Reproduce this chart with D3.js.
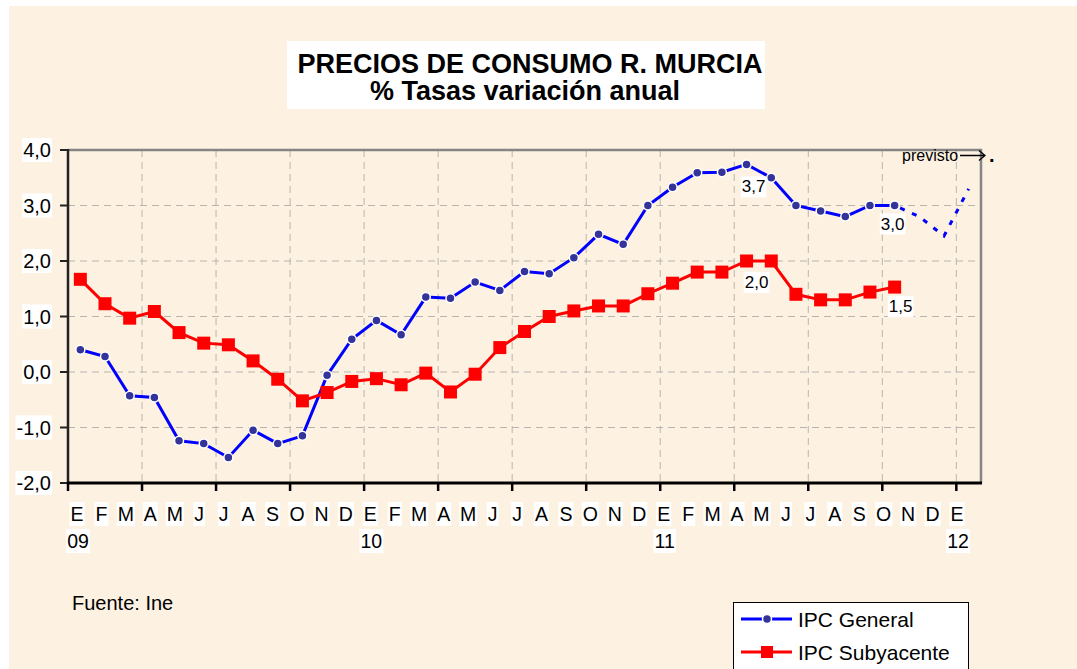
<!DOCTYPE html>
<html>
<head>
<meta charset="utf-8">
<script src="https://cdn.jsdelivr.net/npm/d3@7"></script>
<style>
  body { margin: 0; background: #ffffff; }
  svg { display: block; font-family: Arial, "Liberation Sans", sans-serif; }
</style>
</head>
<body>
<svg id="chart"></svg>
<script>

// months from E09 to E12
const months = ["E","F","M","A","M","J","J","A","S","O","N","D",
                "E","F","M","A","M","J","J","A","S","O","N","D",
                "E","F","M","A","M","J","J","A","S","O","N","D",
                "E"];
const years = [{i: 0, label: "09"}, {i: 12, label: "10"}, {i: 24, label: "11"}, {i: 36, label: "12"}];

const ipcGeneral = [0.40, 0.28, -0.43, -0.46, -1.24, -1.29, -1.54, -1.05, -1.29, -1.15, -0.06, 0.59,
                    0.93, 0.67, 1.35, 1.33, 1.62, 1.47, 1.81, 1.77, 2.06, 2.48, 2.30, 3.00,
                    3.33, 3.59, 3.60, 3.74, 3.50, 3.00, 2.90, 2.80, 3.00, 3.00];
// forecast: O11 -> E12
const ipcPrevisto = [{i: 33, v: 3.00}, {i: 34, v: 2.80}, {i: 35, v: 2.45}, {i: 36, v: 3.30}];
const ipcSubyacente = [1.67, 1.23, 0.97, 1.09, 0.71, 0.52, 0.49, 0.20, -0.13, -0.52, -0.37, -0.17,
                       -0.12, -0.23, -0.02, -0.36, -0.04, 0.44, 0.73, 1.00, 1.10, 1.19, 1.19, 1.41,
                       1.60, 1.80, 1.80, 2.00, 2.00, 1.40, 1.30, 1.30, 1.44, 1.53];
const yTicks = [-2, -1, 0, 1, 2, 3, 4];
const dataLabels = [
    {serie: "general",    i: 27, text: "3,7", dx: 7,  dy: 22},
    {serie: "general",    i: 33, text: "3,0", dx: -2, dy: 18},
    {serie: "subyacente", i: 27, text: "2,0", dx: 10, dy: 21},
    {serie: "subyacente", i: 33, text: "1,5", dx: 6,  dy: 19},
];
const titleLines = ["PRECIOS DE CONSUMO R. MURCIA", "% Tasas variación anual"];

class IpcChart {

    constructor(config) {
        this.config = {
            parent: config.parent,
            width : config.width  || 1077,
            height: config.height || 669,
            margin: config.margin || {top: 150, right: 96, bottom: 186, left: 68},
        }
        this.init();
    }

    init() {
        let self = this;

        self.svg = d3.select(self.config.parent)
            .attr('width', self.config.width)
            .attr('height', self.config.height);

        // cream panel
        self.svg.append('rect')
            .attr('x', 9).attr('y', 6)
            .attr('width', self.config.width - 9)
            .attr('height', self.config.height - 6)
            .attr('fill', '#fdf2e2');

        self.chart = self.svg.append('g');
        self.locale = d3.formatLocale({decimal: ",", thousands: ".", grouping: [3], currency: ["", ""], minus: "-"});
    }

    // white box behind a text, like the excel labels
    boxed(sel, pad) {
        sel.each(function() {
            let b = this.getBBox();
            d3.select(this.parentNode).insert('rect', () => this)
                .attr('x', b.x - pad).attr('y', b.y - 1)
                .attr('width', b.width + pad * 2).attr('height', b.height + 2)
                .attr('fill', 'white');
        });
    }

    update() {
        let self = this;
        let m = self.config.margin;

        self.left   = m.left;
        self.right  = self.config.width - m.right;
        self.top    = m.top;
        self.bottom = self.config.height - m.bottom;

        self.xscale = d3.scaleBand()
            .domain(d3.range(months.length))
            .range([self.left, self.right]);
        self.xc = i => self.xscale(i) + self.xscale.bandwidth() / 2;

        // excel spreads the category letters a bit tighter than the points
        self.xlabel = d3.scalePoint()
            .domain(d3.range(months.length))
            .range([77, 957]);

        self.yscale = d3.scaleLinear()
            .domain([-2, 4])
            .range([self.bottom, self.top]);

        self.render();
    }

    render() {
        let self = this;
        let fmt = self.locale.format(".1f");
        let bw = self.xscale.bandwidth();
        let vTicks = d3.range(0, months.length + 1, 3);   // boundaries every 3 months

        // grid
        self.chart.append('g')
            .selectAll('line')
            .data(yTicks.filter(d => d > -2 && d < 4))
            .join('line')
            .attr('x1', self.left).attr('x2', self.right)
            .attr('y1', d => self.yscale(d)).attr('y2', d => self.yscale(d))
            .attr('stroke', '#b8b4ad').attr('stroke-width', 1)
            .attr('stroke-dasharray', '7,5');

        self.chart.append('g')
            .selectAll('line')
            .data(vTicks.filter(d => d > 0 && d < months.length))
            .join('line')
            .attr('x1', d => self.left + d * bw).attr('x2', d => self.left + d * bw)
            .attr('y1', self.top).attr('y2', self.bottom)
            .attr('stroke', '#b8b4ad').attr('stroke-width', 1)
            .attr('stroke-dasharray', '7,5');

        // top and right frame
        self.chart.append('path')
            .attr('d', `M${self.left},${self.top}H${self.right}V${self.bottom}`)
            .attr('fill', 'none')
            .attr('stroke', '#858585')
            .attr('stroke-width', 2.5);

        // axes
        self.chart.append('line')
            .attr('x1', self.left).attr('x2', self.left)
            .attr('y1', self.top - 1).attr('y2', self.bottom)
            .attr('stroke', '#222').attr('stroke-width', 2.5);

        self.chart.append('g')
            .selectAll('line')
            .data(yTicks)
            .join('line')
            .attr('x1', self.left - 8).attr('x2', self.left)
            .attr('y1', d => self.yscale(d)).attr('y2', d => self.yscale(d))
            .attr('stroke', '#222').attr('stroke-width', 2);

        self.chart.append('line')
            .attr('x1', self.left - 1).attr('x2', self.right + 1)
            .attr('y1', self.bottom).attr('y2', self.bottom)
            .attr('stroke', '#000').attr('stroke-width', 3);

        self.chart.append('g')
            .selectAll('line')
            .data(vTicks)
            .join('line')
            .attr('x1', d => self.left + d * bw).attr('x2', d => self.left + d * bw)
            .attr('y1', self.bottom).attr('y2', self.bottom + 8)
            .attr('stroke', '#000').attr('stroke-width', 2.5);

        // y labels
        let yl = self.chart.append('g')
            .selectAll('text')
            .data(yTicks)
            .join('text')
            .attr('x', 51)
            .attr('y', d => self.yscale(d) + 7)
            .attr('text-anchor', 'end')
            .style('font-size', '20px')
            .text(d => fmt(d));
        self.boxed(yl, 1);

        // month letters
        let ml = self.chart.append('g')
            .selectAll('text')
            .data(months)
            .join('text')
            .attr('x', (d, i) => self.xlabel(i))
            .attr('y', 521)
            .attr('text-anchor', 'middle')
            .style('font-size', '19.5px')
            .text(d => d);
        self.boxed(ml, 1);

        let yr = self.chart.append('g')
            .selectAll('text')
            .data(years)
            .join('text')
            .attr('x', d => self.xlabel(d.i) + 1)
            .attr('y', 548)
            .attr('text-anchor', 'middle')
            .style('font-size', '19.5px')
            .text(d => d.label);
        self.boxed(yr, 1);

        // series
        let line = d3.line()
            .x(d => self.xc(d.i))
            .y(d => self.yscale(d.v));

        let general = ipcGeneral.map((v, i) => ({i: i, v: v}));
        let suby    = ipcSubyacente.map((v, i) => ({i: i, v: v}));

        self.chart.append('path')
            .datum(ipcPrevisto)
            .attr('d', line)
            .attr('fill', 'none')
            .attr('stroke', '#0000ff')
            .attr('stroke-width', 3)
            .attr('stroke-dasharray', '5,8')
            .attr('stroke-dashoffset', -6);

        self.chart.append('path')
            .datum(general)
            .attr('d', line)
            .attr('fill', 'none')
            .attr('stroke', '#0000ff')
            .attr('stroke-width', 3);

        self.chart.append('g')
            .selectAll('circle')
            .data(general)
            .join('circle')
            .attr('cx', d => self.xc(d.i))
            .attr('cy', d => self.yscale(d.v))
            .attr('r', 4.5)
            .attr('fill', '#333399')
            .attr('stroke', 'white')
            .attr('stroke-width', 1.5);

        self.chart.append('path')
            .datum(suby)
            .attr('d', line)
            .attr('fill', 'none')
            .attr('stroke', '#ff0000')
            .attr('stroke-width', 3);

        self.chart.append('g')
            .selectAll('rect')
            .data(suby)
            .join('rect')
            .attr('x', d => self.xc(d.i) - 6.5)
            .attr('y', d => self.yscale(d.v) - 6.5)
            .attr('width', 13).attr('height', 13)
            .attr('fill', '#ff0000');

        // data labels
        let dl = self.chart.append('g')
            .selectAll('text')
            .data(dataLabels)
            .join('text')
            .attr('x', d => self.xc(d.i) + d.dx)
            .attr('y', d => self.yscale(d.serie == "general" ? ipcGeneral[d.i] : ipcSubyacente[d.i]) + d.dy + 6)
            .attr('text-anchor', 'middle')
            .style('font-size', '17px')
            .text(d => d.text);
        self.boxed(dl, 1);

        // previsto arrow
        self.chart.append('text')
            .attr('x', 902).attr('y', 161)
            .style('font-size', '16px')
            .text('previsto');
        self.chart.append('path')
            .attr('d', 'M960,155.5H985M979,150.5L985,155.5L979,160.5')
            .attr('fill', 'none')
            .attr('stroke', '#000')
            .attr('stroke-width', 1.3);
        self.chart.append('text')
            .attr('x', 989).attr('y', 162)
            .style('font-size', '20px')
            .style('font-weight', 'bold')
            .text('.');

        // title, two lines in one text
        self.svg.append('rect')
            .attr('x', 287).attr('y', 41)
            .attr('width', 478).attr('height', 68)
            .attr('fill', 'white');
        self.svg.append('text')
            .attr('text-anchor', 'middle')
            .style('font-size', '27px').style('font-weight', 'bold')
            .selectAll('tspan')
            .data(titleLines)
            .join('tspan')
            .attr('x', (d, i) => i == 0 ? 530 : 525)
            .attr('y', (d, i) => i == 0 ? 73 : 100)
            .text(d => d);

        // source
        self.svg.append('text')
            .attr('x', 72).attr('y', 610)
            .style('font-size', '20px')
            .text('Fuente: Ine');

        // legend
        let lg = self.svg.append('g');
        lg.append('rect')
            .attr('x', 733.5).attr('y', 602.5)
            .attr('width', 235).attr('height', 80)
            .attr('fill', 'white')
            .attr('stroke', '#000').attr('stroke-width', 1);
        lg.append('line')
            .attr('x1', 741).attr('x2', 792).attr('y1', 619).attr('y2', 619)
            .attr('stroke', '#0000ff').attr('stroke-width', 3);
        lg.append('circle')
            .attr('cx', 767).attr('cy', 619).attr('r', 4.5)
            .attr('fill', '#333399').attr('stroke', 'white').attr('stroke-width', 1.5);
        lg.append('line')
            .attr('x1', 741).attr('x2', 792).attr('y1', 652).attr('y2', 652)
            .attr('stroke', '#ff0000').attr('stroke-width', 3);
        lg.append('rect')
            .attr('x', 761).attr('y', 646).attr('width', 12).attr('height', 12)
            .attr('fill', '#ff0000');
        lg.append('text')
            .attr('x', 798).attr('y', 627)
            .style('font-size', '21px')
            .text('IPC General');
        lg.append('text')
            .attr('x', 798).attr('y', 660)
            .style('font-size', '21px')
            .text('IPC Subyacente');
    }
}

let chart = new IpcChart({parent: '#chart'});
chart.update();

</script>
</body>
</html>
